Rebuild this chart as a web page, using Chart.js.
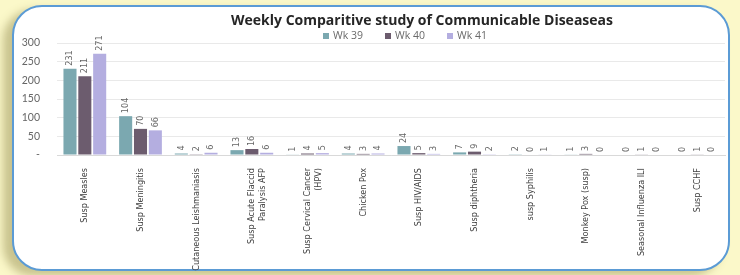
<!DOCTYPE html>
<html>
<head>
<meta charset="utf-8">
<script src="https://cdn.jsdelivr.net/npm/chart.js@4/dist/chart.umd.min.js"></script>
<style>
  html, body { margin: 0; padding: 0; }
  body { width: 740px; height: 275px; background: #fbf8c9; position: relative; overflow: hidden; }
  #card { position: absolute; left: 12px; top: 5px; width: 714px; height: 262px; background: #ffffff;
          border: 2.5px solid #5b9bd5; border-radius: 30px;
          box-shadow: -9px 5px 9px rgba(140,130,70,0.45); }
  #wrap { position: absolute; left: 0; top: 0; width: 740px; height: 275px; }
</style>
</head>
<body>
<div id="card"></div>
<div id="wrap"><canvas id="c" width="740" height="275"></canvas></div>
<script>
const categories = [
  "Susp Measles",
  "Susp Meningitis",
  "Cutaneous Leishmaniasis",
  ["Susp Acute Flaccid", "Paralysis AFP"],
  ["Susp Cervical Cancer", "(HPV)"],
  "Chicken Pox",
  "Susp HIV/AIDS",
  "Susp diphtheria",
  "susp Syphilis",
  "Monkey Pox (susp)",
  "Seasonal Influenza ILI",
  "Susp CCHF"
];
const seriesNames = ["Wk 39", "Wk 40", "Wk 41"];
const wk39 = [231, 104, 4, 13, 1, 4, 24, 7, 2, 1, 0, 0];
const wk40 = [211, 70, 2, 16, 4, 3, 5, 9, 0, 3, 1, 1];
const wk41 = [271, 66, 6, 6, 5, 4, 3, 2, 1, 0, 0, 0];
const yTicks = [0, 50, 100, 150, 200, 250, 300];
const titleText = "Weekly Comparitive study of Communicable Diseaseas";

const colors = ["#7ba8b0", "#6c5c6e", "#b4aee0"];
const narrow = "'Liberation Sans Narrow', 'DejaVu Sans Condensed', 'Liberation Sans', sans-serif";

const valueLabels = {
  id: 'valueLabels',
  afterDatasetsDraw(chart) {
    const ctx = chart.ctx;
    ctx.save();
    ctx.font = "9px " + narrow;
    ctx.fillStyle = "#666666";
    ctx.textAlign = "left";
    ctx.textBaseline = "middle";
    chart.data.datasets.forEach((ds, di) => {
      const meta = chart.getDatasetMeta(di);
      meta.data.forEach((bar, i) => {
        const v = ds.data[i];
        ctx.save();
        ctx.translate(bar.x, bar.y - 3);
        ctx.rotate(-Math.PI / 2);
        ctx.fillText(String(v), 0, 0);
        ctx.restore();
      });
    });
    ctx.restore();
  }
};

const headerPlugin = {
  id: 'header',
  afterDraw(chart) {
    const ctx = chart.ctx;
    ctx.save();
    ctx.font = "bold 14px 'Open Sans', 'DejaVu Sans', sans-serif";
    ctx.fillStyle = "#262626";
    ctx.textAlign = "center";
    ctx.textBaseline = "middle";
    ctx.fillText(titleText, 422, 21, 390);
    ctx.font = "10.5px 'Open Sans', 'DejaVu Sans', sans-serif";
    ctx.textAlign = "left";
    let x = 323;
    chart.data.datasets.forEach((ds) => {
      ctx.fillStyle = ds.backgroundColor;
      ctx.fillRect(x, 33, 6, 6);
      ctx.fillStyle = "#6a6a6a";
      ctx.fillText(ds.label, x + 10, 36);
      x += 62;
    });
    ctx.restore();
  }
};

new Chart(document.getElementById('c'), {
  type: 'bar',
  data: {
    labels: categories,
    datasets: [
      { label: seriesNames[0], data: wk39, backgroundColor: colors[0] },
      { label: seriesNames[1], data: wk40, backgroundColor: colors[1] },
      { label: seriesNames[2], data: wk41, backgroundColor: colors[2] }
    ]
  },
  options: {
    responsive: false,
    animation: false,
    layout: { padding: { top: 43, right: 15, bottom: 0, left: 0 } },
    datasets: { bar: { categoryPercentage: 0.8, barPercentage: 0.88 } },
    plugins: { legend: { display: false }, title: { display: false }, tooltip: { enabled: false } },
    scales: {
      x: {
        grid: { display: false },
        border: { display: true, color: "#d9d9d9" },
        ticks: {
          maxRotation: 90, minRotation: 90, autoSkip: false,
          color: "#404040", font: { family: narrow, size: 9 }, padding: 5
        },
        afterFit(s) { s.height = 120; }
      },
      y: {
        min: 0, max: 300,
        afterBuildTicks(s) { s.ticks = yTicks.map(v => ({ value: v })); },
        grid: { color: "#e9e9e9", drawTicks: false },
        border: { display: false },
        ticks: {
          color: "#666666", font: { family: "'Lato', 'Open Sans', sans-serif", size: 10.5 }, padding: 17,
          callback: (v) => v === 0 ? "-" : String(v)
        },
        afterFit(s) { s.width = 57; }
      }
    }
  },
  plugins: [valueLabels, headerPlugin]
});
</script>
</body>
</html>
